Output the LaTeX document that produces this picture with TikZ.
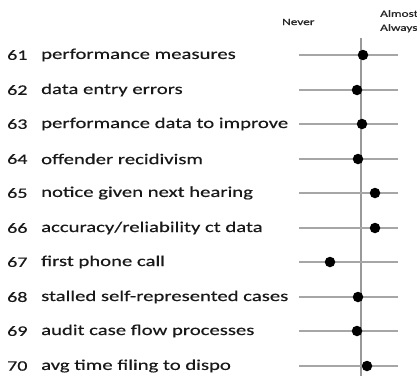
\documentclass[tikz,border=0pt]{standalone}
\usepackage{fontspec}
\setmainfont{Carlito}
\newfontfamily\widefont[FakeStretch=1.38,FakeBold=0.4]{Carlito}
\newfontfamily\hdrfont[FakeStretch=1.4,FakeBold=1]{Carlito}
\begin{document}
\begin{tikzpicture}[x=1pt,y=1pt,
  rowline/.style={draw=gray!70, line width=1.2pt},
  axisline/.style={draw=gray!80, line width=1.3pt},
  dot/.style={circle, fill=black, inner sep=0pt, minimum size=10.5pt},
  lbl/.style={anchor=west, inner sep=0pt, font=\widefont\fontsize{15}{15}\selectfont, text=black!90},
  num/.style={anchor=west, inner sep=0pt, font=\widefont\fontsize{14.5}{15}\selectfont, text=black!90},
  hdr/.style={anchor=west, inner sep=0pt, font=\hdrfont\fontsize{9.5}{14}\selectfont, text=black!85}]
\useasboundingbox (0,0) rectangle (417,376);
\coordinate (vtop) at (361,338);
\coordinate (vbot) at (361,0);
\draw[axisline] (vtop) -- (vbot);
\node[hdr] (never) at (282,354) {Never};
\node[hdr, align=left, anchor=north west] (always) at (380,366) {Almost\\Always};
\foreach \n/\y/\dx/\t in {
  61/55/363/{performance measures},
  62/90/357/{data entry errors},
  63/124/362/{performance data to improve},
  64/159/358/{offender recidivism},
  65/193/375/{notice given next hearing},
  66/228/375/{accuracy/reliability ct data},
  67/262/330/{first phone call},
  68/297/358/{stalled self-represented cases},
  69/331/357/{audit case flow processes},
  70/366/367/{avg time filing to dispo}}{
  \coordinate (l\n) at (299,376-\y);
  \coordinate (r\n) at (398,376-\y);
  \draw[rowline] (l\n) -- (r\n);
  \node[dot] (d\n) at (\dx,376-\y) {};
  \node[num] (n\n) at (7,376-\y) {\n};
  \node[lbl] (t\n) at (41,376-\y) {\t};
}
\end{tikzpicture}
\end{document}
